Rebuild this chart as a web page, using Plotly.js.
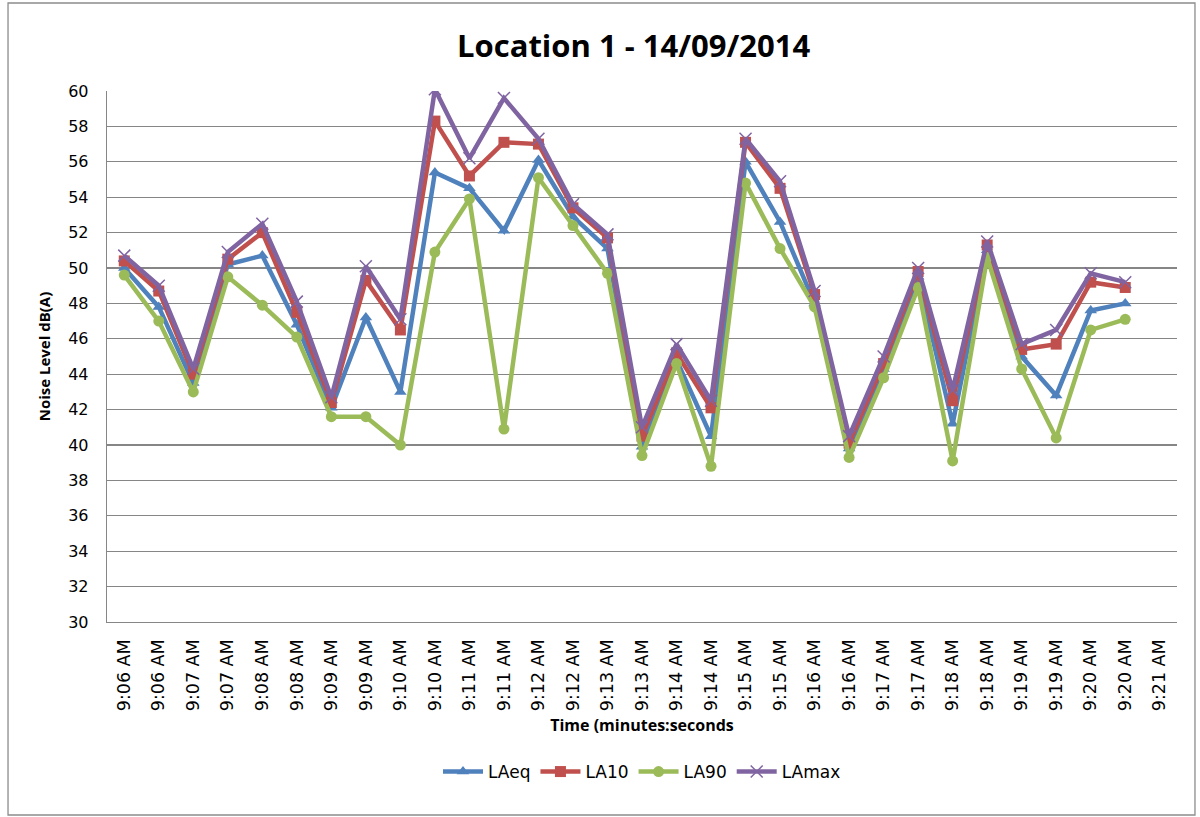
<!DOCTYPE html>
<html>
<head>
<meta charset="utf-8">
<script src="https://cdn.plot.ly/plotly-3.0.1.min.js"></script>
<style>
html,body{margin:0;padding:0;background:#ffffff;}
#chart{width:1200px;height:817px;}
</style>
</head>
<body>
<div id="chart"></div>
<script>
// Category tick labels (31 slots, last one has no data)
var timeLabels = ["9:06 AM","9:06 AM","9:07 AM","9:07 AM","9:08 AM","9:08 AM","9:09 AM","9:09 AM",
  "9:10 AM","9:10 AM","9:11 AM","9:11 AM","9:12 AM","9:12 AM","9:13 AM","9:13 AM",
  "9:14 AM","9:14 AM","9:15 AM","9:15 AM","9:16 AM","9:16 AM","9:17 AM","9:17 AM",
  "9:18 AM","9:18 AM","9:19 AM","9:19 AM","9:20 AM","9:20 AM","9:21 AM"];

// Series values (dB(A)), one per sample
var LAeq  = [50.0,47.8,43.5,50.2,50.7,46.8,42.1,47.2,43.0,55.4,54.5,52.1,56.1,52.9,51.1,39.9,
             44.8,40.5,56.0,52.6,48.0,39.8,44.3,49.5,41.2,51.0,45.0,42.8,47.6,48.0];
var LA10  = [50.4,48.7,44.0,50.5,52.0,47.5,42.4,49.3,46.5,58.3,55.2,57.1,57.0,53.4,51.7,40.5,
             45.2,42.1,57.1,54.5,48.5,40.1,44.6,49.8,42.5,51.3,45.4,45.7,49.2,48.9];
var LA90  = [49.6,47.0,43.0,49.5,47.9,46.1,41.6,41.6,40.0,50.9,53.9,40.9,55.1,52.4,49.7,39.4,
             44.6,38.8,54.8,51.1,47.8,39.3,43.8,48.9,39.1,50.6,44.3,40.4,46.5,47.1];
var LAmax = [50.7,49.0,44.3,50.9,52.5,48.1,42.7,50.1,47.1,60.1,56.2,59.6,57.3,53.6,51.9,41.0,
             45.7,42.5,57.3,54.9,48.7,40.5,45.0,50.0,43.1,51.5,45.7,46.5,49.7,49.2];

var seriesNames = ["LAeq","LA10","LA90","LAmax"];

function idx(arr){ return arr.map(function(_, i){ return i; }); }
var tickIdx = idx(timeLabels);

var styles = [
  {color:"#4F81BD", symbol:"triangle-up", size:11, mlw:0},
  {color:"#C0504D", symbol:"square", size:11, mlw:0},
  {color:"#9BBB59", symbol:"circle", size:11, mlw:0},
  {color:"#8064A2", symbol:"x-thin", size:12, mlw:1.5}
];
var dataSets = [LAeq, LA10, LA90, LAmax];

var traces = dataSets.map(function(vals, k){
  var s = styles[k];
  return {
    type:"scatter", mode:"lines+markers", name:seriesNames[k],
    x: idx(vals), y: vals,
    line:{color:s.color, width:4.5},
    marker:{symbol:s.symbol, size:s.size, color:s.color,
            line:{color:s.color, width:s.mlw}}
  };
});

var layout = {
  width:1200, height:817,
  paper_bgcolor:"#ffffff", plot_bgcolor:"#ffffff",
  margin:{l:107, r:23, t:91, b:195},
  showlegend:true,
  title:{text:"<b>Location 1 - 14/09/2014</b>", x:0.528, xanchor:"center", y:0.944, yanchor:"middle",
         font:{family:"Open Sans, sans-serif", size:31, color:"#000000"}},
  xaxis:{
    range:[-0.5, timeLabels.length - 0.5],
    tickmode:"array", tickvals:tickIdx, ticktext:timeLabels,
    tickangle:-90, showgrid:false, zeroline:false,
    showline:true, linecolor:"#868686", linewidth:1.3,
    ticks:"", ticklabelstandoff:9,
    tickfont:{family:"DejaVu Sans, sans-serif", size:17.5, color:"#000000"},
    title:{text:"<b>Time (minutes:seconds</b>", standoff:9,
           font:{family:"Open Sans, sans-serif", size:16, color:"#000000"}},
    fixedrange:true
  },
  yaxis:{
    range:[30,60], dtick:2, tick0:30,
    showgrid:true, gridcolor:"#868686", gridwidth:1.3, zeroline:false,
    showline:true, linecolor:"#868686", linewidth:1.3, ticks:"",
    ticklabelstandoff:14,
    tickfont:{family:"DejaVu Sans, sans-serif", size:16, color:"#000000"},
    title:{text:"<b>Noise Level dB(A)</b>", standoff:14,
           font:{family:"Open Sans, sans-serif", size:15, color:"#000000"}},
    fixedrange:true
  },
  legend:{orientation:"h", x:0.5, xanchor:"center", y:-0.2825, yanchor:"middle",
          font:{family:"DejaVu Sans, sans-serif", size:17, color:"#000000"},
          itemwidth:40, tracegroupgap:0, bgcolor:"rgba(0,0,0,0)"},
  shapes:[
    {type:"rect", xref:"paper", yref:"paper", x0:-0.0925, x1:1.0168, y0:-0.3635, y1:1.1657,
     line:{color:"#8c8c8c", width:1.3}, fillcolor:"rgba(0,0,0,0)", layer:"below"}
  ]
};

Plotly.newPlot("chart", traces, layout, {staticPlot:true, displayModeBar:false});
</script>
</body>
</html>
